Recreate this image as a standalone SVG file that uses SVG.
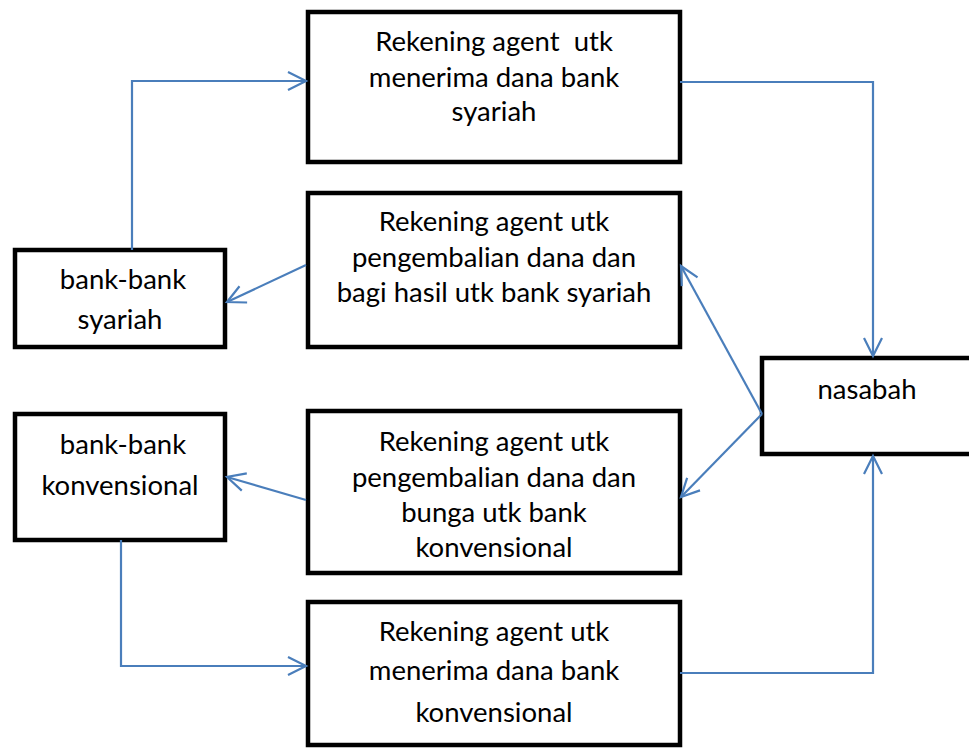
<svg xmlns="http://www.w3.org/2000/svg" width="969" height="748" viewBox="0 0 969 748">
<style>
.box{fill:#fff;stroke:#000;stroke-width:4.5}
.t{font-family:Lato,"Liberation Sans",sans-serif;font-size:27.5px;fill:#000;text-anchor:middle}
.c{fill:none;stroke:#4a7ebb;stroke-width:2.2}
</style>
<defs>
<marker id="a" markerUnits="userSpaceOnUse" markerWidth="24" markerHeight="24" refX="20" refY="10" orient="auto" viewBox="0 0 24 20">
<path d="M2,1 L20,10 L2,19" fill="none" stroke="#4a7ebb" stroke-width="2.2"/>
</marker>
</defs>
<rect width="969" height="748" fill="#fff"/>
<g id="box-syariah-terima">
<rect class="box" x="308" y="12" width="372" height="150"/>
<text class="t" x="494" y="51" xml:space="preserve">Rekening agent  utk</text>
<text class="t" x="494" y="87">menerima dana bank</text>
<text class="t" x="494" y="121">syariah</text>
</g>
<g id="box-syariah-kembali">
<rect class="box" x="308" y="193" width="372" height="154"/>
<text class="t" x="494" y="231">Rekening agent utk</text>
<text class="t" x="494" y="267">pengembalian dana dan</text>
<text class="t" x="494" y="302">bagi hasil utk bank syariah</text>
</g>
<g id="bank-syariah">
<rect class="box" x="15" y="250" width="210" height="97"/>
<text class="t" x="123" y="289">bank-bank</text>
<text class="t" x="120" y="329">syariah</text>
</g>
<g id="box-konv-kembali">
<rect class="box" x="308" y="411" width="372" height="162"/>
<text class="t" x="494" y="451">Rekening agent utk</text>
<text class="t" x="494" y="487">pengembalian dana dan</text>
<text class="t" x="494" y="522">bunga utk bank</text>
<text class="t" x="494" y="557">konvensional</text>
</g>
<g id="bank-konv">
<rect class="box" x="15" y="414" width="210" height="126"/>
<text class="t" x="123" y="454">bank-bank</text>
<text class="t" x="120" y="495">konvensional</text>
</g>
<g id="box-konv-terima">
<rect class="box" x="308" y="602" width="372" height="143"/>
<text class="t" x="494" y="641">Rekening agent utk</text>
<text class="t" x="494" y="680">menerima dana bank</text>
<text class="t" x="494" y="722">konvensional</text>
</g>
<g id="nasabah">
<rect class="box" x="762" y="358" width="215" height="96"/>
<text class="t" x="867" y="399">nasabah</text>
</g>
<g id="connectors">
<path class="c" d="M132,250 V81 H306" marker-end="url(#a)"/>
<path class="c" d="M680,82 H873 V356" marker-end="url(#a)"/>
<path class="c" d="M306,265 L227,302" marker-end="url(#a)"/>
<path class="c" d="M762,414 L681,266" marker-end="url(#a)"/>
<path class="c" d="M762,414 L681,497" marker-end="url(#a)"/>
<path class="c" d="M306,500 L227,477" marker-end="url(#a)"/>
<path class="c" d="M121,540 V666 H306" marker-end="url(#a)"/>
<path class="c" d="M680,673 H873 V456" marker-end="url(#a)"/>
</g>
</svg>
